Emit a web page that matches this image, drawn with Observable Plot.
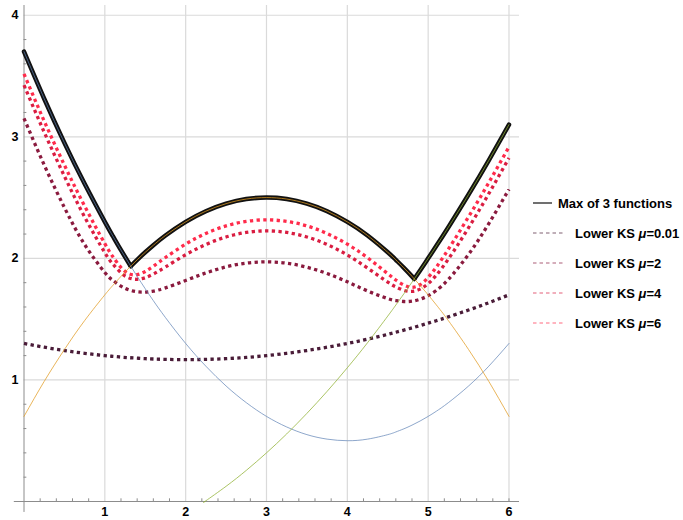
<!DOCTYPE html>
<html><head><meta charset="utf-8">
<script src="https://cdn.jsdelivr.net/npm/d3@7"></script>
<script src="https://cdn.jsdelivr.net/npm/@observablehq/plot@0.6"></script>
<style>
body{margin:0;background:#fff;font-family:"Liberation Sans",Arial,sans-serif;}
#wrap{position:relative;width:683px;height:520px;overflow:hidden;}
#chart{position:absolute;left:0;top:0;}
#legend{position:absolute;left:533px;top:188px;font-weight:bold;font-size:13px;color:#000;}
.row{display:flex;align-items:center;height:30px;white-space:nowrap;}
.row svg{display:block;}
</style></head><body>
<div id="wrap"><div id="chart"></div><div id="legend"></div></div>
<script>
// sample x positions
const xs = [0,0.25,0.5,0.75,1,1.1,1.2,1.3,1.4,1.5,1.6,1.75,2,2.25,2.5,2.75,3,3.25,3.5,3.75,4,4.25,4.5,4.6,4.7,4.8,4.9,5,5.1,5.25,5.5,5.75,6];
// the three functions
const blueY = [3.7,3.313,2.95,2.613,2.3,2.182,2.068,1.958,1.852,1.75,1.652,1.513,1.3,1.113,0.95,0.813,0.7,0.613,0.55,0.513,0.5,0.513,0.55,0.572,0.598,0.628,0.662,0.7,0.742,0.813,0.95,1.113,1.3];
const orangeY = [0.7,0.988,1.25,1.488,1.7,1.778,1.852,1.922,1.988,2.05,2.108,2.188,2.3,2.388,2.45,2.488,2.5,2.488,2.45,2.388,2.3,2.188,2.05,1.988,1.922,1.852,1.778,1.7,1.618,1.488,1.25,0.988,0.7];
const greenX = [2.236,2.25,2.5,2.75,3,3.25,3.5,3.75,4,4.25,4.5,4.6,4.7,4.8,4.9,5,5.1,5.25,5.5,5.75,6];
const greenY = [0,0.006,0.125,0.256,0.4,0.556,0.725,0.906,1.1,1.306,1.525,1.616,1.709,1.804,1.901,2.0,2.101,2.256,2.525,2.806,3.1];
// corners of the max
const kinkX = [1.3205, 4.828];
const kinkY = [1.936, 1.831];
// lower KS curves
const ks001 = [1.3,1.269,1.242,1.219,1.2,1.194,1.188,1.183,1.179,1.175,1.172,1.169,1.167,1.169,1.175,1.185,1.2,1.219,1.242,1.269,1.3,1.335,1.375,1.392,1.41,1.428,1.447,1.467,1.487,1.519,1.575,1.635,1.7];
const ks2 = [3.152,2.768,2.418,2.114,1.884,1.819,1.771,1.740,1.725,1.723,1.731,1.757,1.818,1.880,1.930,1.961,1.971,1.960,1.927,1.875,1.807,1.732,1.669,1.653,1.645,1.648,1.664,1.693,1.736,1.827,2.033,2.286,2.568];
const ks4 = [3.425,3.038,2.676,2.341,2.047,1.953,1.881,1.839,1.828,1.841,1.871,1.929,2.030,2.114,2.176,2.213,2.226,2.213,2.176,2.114,2.028,1.920,1.805,1.765,1.737,1.729,1.747,1.792,1.861,1.994,2.252,2.532,2.826];
const ks6 = [3.517,3.129,2.767,2.430,2.121,2.013,1.925,1.873,1.866,1.892,1.935,2.007,2.117,2.205,2.267,2.304,2.317,2.304,2.267,2.204,2.117,2.005,1.874,1.822,1.780,1.762,1.783,1.843,1.927,2.075,2.342,2.623,2.917];
// ticks
const xMajor = [1,2,3,4,5,6];
const yMajor = [1,2,3,4];
const xMinor = [0.2,0.4,0.6,0.8,1.2,1.4,1.6,1.8,2.2,2.4,2.6,2.8,3.2,3.4,3.6,3.8,4.2,4.4,4.6,4.8,5.2,5.4,5.6,5.8,6.0];
const yMinor = [0.2,0.4,0.6,0.8,1.2,1.4,1.6,1.8,2.2,2.4,2.6,2.8,3.2,3.4,3.6,3.8];
// legend
const legendLabels = ["Max of 3 functions", "0.01", "2", "4", "6"];

const colors = {blue:"#5E81B5", orange:"#E19C24", green:"#8FB032", max:"#111111",
  k001:"#4a1c38", k2:"#8a1a3e", k4:"#d91d41", k6:"#ff2b4b"};

const rows = xs.map((x,i)=>({x, blue: blueY[i], orange: orangeY[i], k001: ks001[i], k2: ks2[i], k4: ks4[i], k6: ks6[i]}));
const greenRows = greenX.map((x,i)=>({x, y: greenY[i]}));
const greenAt = new Map(greenX.map((x,i)=>[x, greenY[i]]));
const maxData = [];
xs.forEach((x,i)=>{
  const v = Math.max(blueY[i], orangeY[i], greenAt.has(x) ? greenAt.get(x) : -Infinity);
  const piece = x < kinkX[0] ? 0 : x < kinkX[1] ? 1 : 2;
  maxData.push({x, y: v, piece});
});
kinkX.forEach((x,k)=>{ maxData.push({x, y:kinkY[k], piece:k}); maxData.push({x, y:kinkY[k], piece:k+1}); });
maxData.sort((a,b)=>a.piece-b.piece || a.x-b.x);

const dotted = (key) => Plot.line(rows, {x:"x", y:key, stroke: colors[key], strokeWidth:3.3, strokeDasharray:"3.3,3.4", strokeLinecap:"butt", curve:"natural"});
const fmt = d3.format("d");

const chart = Plot.plot({
  width: 525, height: 520,
  marginLeft: 23.5, marginRight: 6, marginTop: 5, marginBottom: 19,
  x: {domain: [0, 6.13], label: null},
  y: {domain: [0, 4.08], label: null},
  style: {fontFamily: "'Liberation Sans', Arial, sans-serif", background: "#fff", color: "#000"},
  marks: [
    Plot.ruleX(xMajor, {stroke: "#dadada", strokeWidth: 1.2}),
    Plot.ruleY(yMajor, {stroke: "#dadada", strokeWidth: 1.2}),
    Plot.ruleY([0], {x1: -0.12, x2: 6.13, stroke: "#8c8c8c"}),
    Plot.ruleX([0], {y1: -0.09, y2: 4.08, stroke: "#8c8c8c"}),
    Plot.ruleX(xMinor, {y1: 0, y2: 0.022, stroke: "#8c8c8c"}),
    Plot.ruleY(yMinor, {x1: 0, x2: 0.035, stroke: "#8c8c8c"}),
    Plot.axisX(xMajor, {tickSize: 0, tickPadding: 6, tickFormat: fmt, label: null, fontSize: 12.5, fontWeight: "bold", fill: "#000"}),
    Plot.axisY(yMajor, {tickSize: 0, tickPadding: 5.5, tickFormat: fmt, label: null, fontSize: 12.5, fontWeight: "bold", fill: "#000"}),
    Plot.line(maxData, {x:"x", y:"y", z:"piece", stroke: colors.max, strokeWidth: 4.5, strokeLinecap:"round", curve:"natural"}),
    dotted("k001"), dotted("k2"), dotted("k4"), dotted("k6"),
    Plot.line(rows, {x:"x", y:"blue", stroke: colors.blue, strokeWidth: 1, strokeOpacity: 0.7, curve:"natural"}),
    Plot.line(rows, {x:"x", y:"orange", stroke: colors.orange, strokeWidth: 1, strokeOpacity: 0.75, curve:"natural"}),
    Plot.line(greenRows, {x:"x", y:"y", stroke: colors.green, strokeWidth: 1, strokeOpacity: 0.75, curve:"natural"})
  ]
});
document.getElementById("chart").appendChild(chart);

// legend
const legend = d3.select("#legend");
const r0 = legend.append("div").attr("class","row");
r0.append("svg").attr("width",19).attr("height",10).style("margin-right","6px")
  .append("line").attr("x1",0).attr("x2",19).attr("y1",5).attr("y2",5).attr("stroke","#111").attr("stroke-width",1.2);
r0.append("span").text(legendLabels[0]);
["k001","k2","k4","k6"].forEach((k,i)=>{
  const r = legend.append("div").attr("class","row");
  r.append("svg").attr("width",32).attr("height",10).style("margin-right","10px")
    .append("line").attr("x1",0).attr("x2",32).attr("y1",5).attr("y2",5)
    .attr("stroke",colors[k]).attr("stroke-width",1.2).attr("stroke-opacity",0.7).attr("stroke-dasharray","3.5,3");
  const s = r.append("span");
  s.append("span").text("Lower KS ");
  s.append("i").text("μ");
  s.append("span").text("=" + legendLabels[i+1]);
});
</script></body></html>
